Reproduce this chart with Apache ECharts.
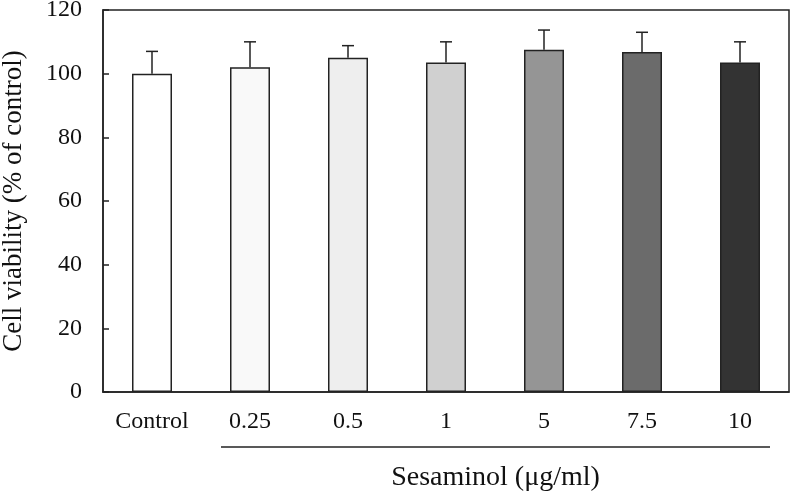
<!DOCTYPE html>
<html><head><meta charset="utf-8">
<script src="https://cdn.jsdelivr.net/npm/echarts@6/dist/echarts.min.js"></script>
<style>html,body{margin:0;padding:0;background:#fff}#c{width:792px;height:495px}</style>
</head><body><div id="c"></div>
<script>
const categories = ['Control','0.25','0.5','1','5','7.5','10'];
const viability = [100, 102, 105, 103.5, 107.5, 106.8, 103.5];
const sd = [7, 8, 3.8, 6.5, 6.2, 6.2, 6.5];
const barColors = ['#ffffff','#f9f9f9','#eeeeee','#d0d0d0','#959595','#6b6b6b','#333333'];
const yTicks = {min:0, max:120, interval:20};

const FONT = 'Liberation Serif';
const chart = echarts.init(document.getElementById('c'));
const option = {
  animation:false,
  grid:{left:103, right:3, top:10, bottom:103, containLabel:false, outerBoundsMode:'none',
    show:true, borderColor:'#222', borderWidth:1.5},
  xAxis:{type:'category', data:categories,
    axisLine:{lineStyle:{color:'#222', width:1.5}}, axisTick:{show:false},
    axisLabel:{color:'#111', fontFamily:FONT, fontSize:24, margin:18}},
  yAxis:{type:'value', min:yTicks.min, max:yTicks.max, interval:yTicks.interval,
    name:'Cell viability (% of control)', nameLocation:'middle', nameGap:76,
    nameTextStyle:{color:'#111', fontFamily:FONT, fontSize:27},
    axisLine:{show:true, lineStyle:{color:'#222', width:1.5}},
    axisTick:{show:true, inside:true, length:6, lineStyle:{color:'#222', width:1.5}},
    splitLine:{show:false},
    axisLabel:{color:'#111', fontFamily:FONT, fontSize:24, margin:21}},
  series:[
    {type:'bar', barWidth:40,
     data:viability.map((v,i)=>({value:v, itemStyle:{color:barColors[i]}})),
     itemStyle:{borderColor:'#222', borderWidth:1.5}},
    {type:'custom', z:1,
     data:viability.map((v,i)=>[i, v, v+sd[i]]),
     renderItem:function(params, api){
       const x = api.coord([api.value(0), api.value(1)]);
       const top = api.coord([api.value(0), api.value(2)]);
       return {type:'group', children:[
         {type:'line', shape:{x1:x[0], y1:x[1], x2:x[0], y2:top[1]}, style:{stroke:'#222', lineWidth:1.5}},
         {type:'line', shape:{x1:x[0]-6, y1:top[1], x2:x[0]+6, y2:top[1]}, style:{stroke:'#222', lineWidth:1.5}}
       ]};
     }}
  ]
};
chart.setOption(option);
const p1 = chart.convertToPixel({xAxisIndex:0}, categories[1]);
const p2 = chart.convertToPixel({xAxisIndex:0}, categories[categories.length-1]);
chart.setOption({graphic:[
  {type:'line', shape:{x1:p1-29, y1:447, x2:p2+30, y2:447}, style:{stroke:'#222', lineWidth:1.5}},
  {type:'text', x:(p1-29+p2+30)/2, y:478, style:{text:'Sesaminol (μg/ml)', fontFamily:FONT, fontSize:28, fill:'#111', align:'center', verticalAlign:'middle'}}
]});
</script></body></html>
